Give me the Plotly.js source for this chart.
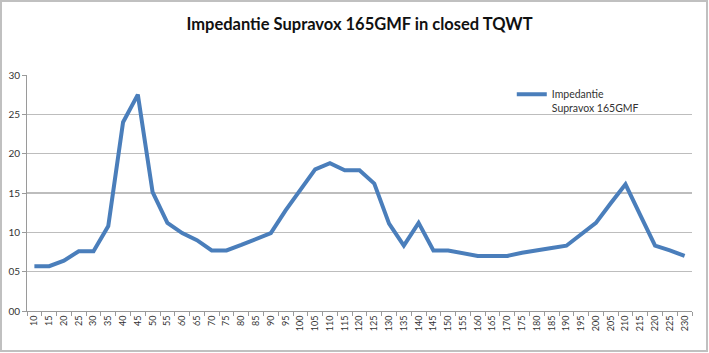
<!DOCTYPE html>
<html>
<head>
<meta charset="utf-8">
<script src="https://cdn.plot.ly/plotly-3.0.1.min.js"></script>
<style>
html,body{margin:0;padding:0;background:#fff;}
#wrap{position:relative;width:709px;height:353px;}
#chart{width:709px;height:353px;}
#frame{position:absolute;left:0;top:0;width:708px;height:352px;box-sizing:border-box;border:2px solid #c0c0c0;pointer-events:none;}
</style>
</head>
<body>
<div id="wrap"><div id="chart"></div><div id="frame"></div></div>
<script>
// Data
const frequencies = ["10","15","20","25","30","35","40","45","50","55","60","65","70","75","80","85","90","95","100","105","110","115","120","125","130","135","140","145","150","155","160","165","170","175","180","185","190","195","200","205","210","215","220","225","230"];
const impedance = [5.7,5.7,6.4,7.6,7.6,10.8,24.0,27.5,15.1,11.2,9.9,9.0,7.7,7.7,8.4,9.1,9.9,12.8,15.4,18.0,18.8,17.9,17.9,16.2,11.1,8.3,11.2,7.7,7.7,7.35,7.0,7.0,7.0,7.4,7.75,8.0,8.3,9.8,11.2,13.7,16.1,12.2,8.3,7.7,7.0];
const yTickValues = [0,5,10,15,20,25,30];
const yTickLabels = ["00","05","10","15","20","25","30"];
const seriesName = "Impedantie<br>Supravox 165GMF";
const chartTitle = "Impedantie Supravox 165GMF in closed TQWT";

const trace = {
  x: frequencies,
  y: impedance,
  type: "scatter",
  mode: "lines",
  name: seriesName,
  line: {color: "#4a7ebb", width: 4}
};

const layout = {
  width: 709, height: 353,
  margin: {l: 27, r: 17, t: 75, b: 42},
  paper_bgcolor: "#fff", plot_bgcolor: "#fff",
  font: {family: "Lato, 'Open Sans', sans-serif", color: "#222"},
  title: {text: "<b>" + chartTitle + "</b>", x: 0.5, xref: "paper", xanchor: "center", y: 0.932, yanchor: "middle", font: {size: 16.5, color: "#111", family: "Lato, 'Open Sans', sans-serif"}},
  showlegend: true,
  legend: {x: 0.729, y: 0.975, xanchor: "left", yanchor: "top", bgcolor: "rgba(0,0,0,0)", font: {size: 10.5, color: "#333"}, valign: "top", tracegroupgap: 0},
  xaxis: {
    type: "category",
    range: [-0.5, 44.5],
    tickangle: -90,
    tickfont: {size: 9, color: "#333"},
    showgrid: false,
    showline: true, linecolor: "#9a9a9a", linewidth: 1,
    ticks: "outside", ticklen: 4, tickcolor: "#9a9a9a",
    tickson: "boundaries",
    fixedrange: true
  },
  yaxis: {
    range: [0, 30],
    tickvals: yTickValues,
    ticktext: yTickLabels,
    tickfont: {size: 10, color: "#333"},
    showgrid: true, gridcolor: "#bdbdbd", gridwidth: 1.5,
    showline: true, linecolor: "#9a9a9a", linewidth: 1,
    ticks: "outside", ticklen: 4, tickcolor: "#9a9a9a",
    zeroline: false,
    fixedrange: true
  }
};

Plotly.newPlot("chart", [trace], layout, {displayModeBar: false, staticPlot: true});
</script>
</body>
</html>
